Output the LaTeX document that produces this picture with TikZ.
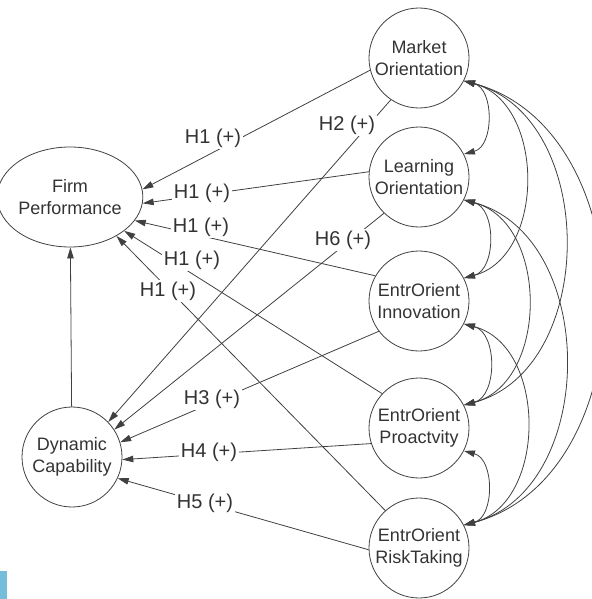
\documentclass[tikz,border=0pt]{standalone}
\usepackage{fontspec}
\setmainfont{Liberation Sans}
\usepackage{tikz}
\usetikzlibrary{positioning, arrows.meta, shapes.geometric, calc}
\definecolor{linegray}{RGB}{64,64,64}
\definecolor{textgray}{RGB}{51,51,51}
\definecolor{markblue}{RGB}{116,190,219}
\tikzset{
    latent/.style={circle, draw=linegray, line width=0.8pt, minimum size=100pt,
        inner sep=0pt, align=center, text=textgray, font=\fontsize{18}{22}\selectfont},
    effect/.style={draw=linegray, line width=0.8pt, -{Triangle[length=11pt, width=6.5pt]}},
    cov/.style={draw=linegray, line width=0.8pt,
        {Triangle[length=11pt, width=6.5pt]}-{Triangle[length=11pt, width=6.5pt]},
        bend left=75, looseness=1.1},
    hyp/.style={fill=white, inner sep=1.5pt, text=textgray, font=\fontsize{20}{22}\selectfont}
}
\begin{document}
\begin{tikzpicture}[x=1pt, y=-1pt]
    \useasboundingbox (0,0) rectangle (591,599);

    % latent variables
    \node[latent, ellipse, minimum width=124pt] (fp) at (70,197) {Firm\\Performance};
    \node[latent] (dc) at (72,457) {Dynamic\\Capability};
    \node[latent] (mo) at (419,58) {Market\\Orientation};
    \node[latent] (lo) at (419,177) {Learning\\Orientation};
    \node[latent] (ei) at (419,301) {EntrOrient\\Innovation};
    \node[latent] (ep) at (419,428) {EntrOrient\\Proactvity};
    \node[latent] (er) at (419,548) {EntrOrient\\RiskTaking};

    % paths
    \draw[effect] (dc) -- (fp);
    \foreach \src/\a/\dst/\b in {
        mo/194/fp/6,
        lo/174/fp/-5,
        ei/150/fp/-20,
        ep/137/fp/-32,
        er/132/fp/-40,
        mo/-124/dc/44,
        lo/226/dc/33,
        ei/217/dc/17,
        ep/198/dc/-3,
        er/182/dc/-25}{

        \draw[effect] (\src.\a) -- (\dst.\b);
    }

    % covariances
    \foreach \a/\b in {mo/lo, mo/ei, mo/ep, mo/er, lo/ei, lo/ep, lo/er, ei/ep, ei/er, ep/er}
    {
        \draw[cov] (\a.-27) to (\b.27);
    }

    % hypothesis labels
    \foreach \name/\txt/\x/\y in {
        hmofp/H1 (+)/213/138,
        hlofp/H1 (+)/202/193,
        heifp/H1 (+)/201/227,
        hepfp/H1 (+)/192/260,
        herfp/H1 (+)/168/291,
        hmodc/H2 (+)/347/125,
        hlodc/H6 (+)/343/240,
        heidc/H3 (+)/212/399,
        hepdc/H4 (+)/209/452,
        herdc/H5 (+)/205/503}{

        \node[hyp] (\name) at (\x,\y) {\txt};
    }

    \fill[markblue] (0,571) rectangle (7,599);
\end{tikzpicture}
\end{document}
